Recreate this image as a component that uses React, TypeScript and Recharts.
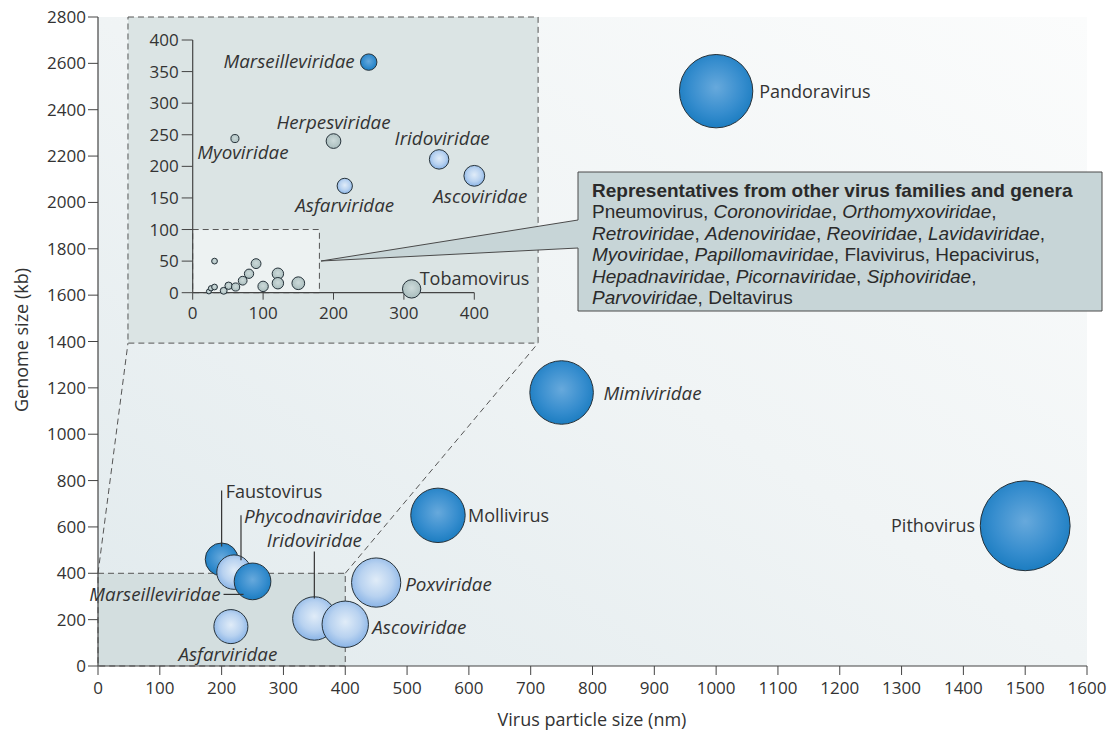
import React from 'react';
import { ScatterChart, Scatter, XAxis, YAxis, ZAxis, ReferenceArea, ReferenceLine } from 'recharts';

const FONT = '"Open Sans", "Noto Sans", "DejaVu Sans", sans-serif';
const BOX_FONT = '"Liberation Sans", Arial, sans-serif';
const TEXT = '#333333';
const AXIS = '#444444';

// ---------- main chart data ----------
const mainNames = ['Asfarviridae', 'Faustovirus', 'Phycodnaviridae', 'Marseilleviridae', 'Iridoviridae', 'Ascoviridae', 'Poxviridae', 'Mollivirus', 'Mimiviridae', 'Pandoravirus', 'Pithovirus'];
const mainParticleNm = [215, 200, 220, 250, 350, 400, 450, 550, 750, 1000, 1500];
const mainGenomeKb = [170, 460, 405, 365, 205, 180, 360, 650, 1180, 2480, 605];
const mainGroup = ['light', 'dark', 'light', 'dark', 'light', 'light', 'light', 'dark', 'dark', 'dark', 'dark'];

// ---------- inset data ----------
const insetNames = ['', '', '', '', '', '', '', '', '', '', '', '', '', '', 'Myoviridae', 'Herpesviridae', 'Asfarviridae', 'Marseilleviridae', 'Tobamovirus', 'Iridoviridae', 'Ascoviridae'];
const insetParticleNm = [23, 26, 31, 31, 44, 51, 61, 71, 80, 90, 100, 121, 121, 150, 60, 200, 216, 250, 311, 350, 400];
const insetGenomeKb = [2, 7, 9, 50, 3, 11, 9, 19, 30, 46, 10, 30, 15, 15, 244, 240, 169, 365, 6, 211, 185];
const insetGroup = ['gray', 'gray', 'gray', 'gray', 'gray', 'gray', 'gray', 'gray', 'gray', 'gray', 'gray', 'gray', 'gray', 'gray', 'gray', 'gray', 'light', 'dark', 'gray', 'light', 'light'];

// ---------- ticks ----------
const xTicksMain = [0, 100, 200, 300, 400, 500, 600, 700, 800, 900, 1000, 1100, 1200, 1300, 1400, 1500, 1600];
const yTicksMain = [0, 200, 400, 600, 800, 1000, 1200, 1400, 1600, 1800, 2000, 2200, 2400, 2600, 2800];
const xTicksInset = [0, 100, 200, 300, 400];
const yTicksInset = [0, 50, 100, 150, 200, 250, 300, 350, 400];

// ---------- callout text ----------
const calloutTitle = 'Representatives from other virus families and genera';
const calloutLines: [string, boolean][][] = [
  [['Pneumovirus', false], [', ', false], ['Coronoviridae', true], [', ', false], ['Orthomyxoviridae', true], [',', false]],
  [['Retroviridae', true], [', ', false], ['Adenoviridae', true], [', ', false], ['Reoviridae', true], [', ', false], ['Lavidaviridae', true], [',', false]],
  [['Myoviridae', true], [', ', false], ['Papillomaviridae', true], [', Flavivirus, Hepacivirus,', false]],
  [['Hepadnaviridae', true], [', ', false], ['Picornaviridae', true], [', ', false], ['Siphoviridae', true], [',', false]],
  [['Parvoviridae', true], [', Deltavirus', false]],
];

const mainData = mainNames.map((name, i) => ({ name, x: mainParticleNm[i], y: mainGenomeKb[i], z: mainParticleNm[i], group: mainGroup[i] }));
const insetData = insetNames.map((name, i) => ({ name, x: insetParticleNm[i], y: insetGenomeKb[i], z: insetParticleNm[i], group: insetGroup[i] }));

type Lab = { dx: number; dy: number; anchor: 'start' | 'middle' | 'end'; leader?: [number, number, number, number] };

const mainLabelPos: Record<string, Lab> = {
  Pandoravirus: { dx: 43, dy: 1, anchor: 'start' },
  Pithovirus: { dx: -50, dy: 0, anchor: 'end' },
  Mimiviridae: { dx: 42, dy: 1, anchor: 'start' },
  Mollivirus: { dx: 30, dy: 0, anchor: 'start' },
  Poxviridae: { dx: 29, dy: 2, anchor: 'start' },
  Ascoviridae: { dx: 27, dy: 3, anchor: 'start' },
  Iridoviridae: { dx: 0, dy: -78, anchor: 'middle', leader: [0, -67, 0, -20] },
  Asfarviridae: { dx: -3, dy: 28, anchor: 'middle' },
  Faustovirus: { dx: 4, dy: -68, anchor: 'start', leader: [0, -69, 0, -13] },
  Phycodnaviridae: { dx: 10, dy: -56, anchor: 'start', leader: [7, -57, 7, -12] },
  Marseilleviridae: { dx: -32, dy: 13, anchor: 'end', leader: [-29, 13, -9, 13] },
};

const insetLabelPos: Record<string, Lab> = {
  Marseilleviridae: { dx: -14, dy: -1, anchor: 'end' },
  Herpesviridae: { dx: 0, dy: -19, anchor: 'middle' },
  Myoviridae: { dx: 8, dy: 14, anchor: 'middle' },
  Iridoviridae: { dx: 3, dy: -21, anchor: 'middle' },
  Asfarviridae: { dx: 0, dy: 19, anchor: 'middle' },
  Ascoviridae: { dx: 6, dy: 21, anchor: 'middle' },
  Tobamovirus: { dx: 8, dy: -10, anchor: 'start' },
};

const fillFor = (g: string) => (g === 'dark' ? 'url(#gDark)' : g === 'light' ? 'url(#gLight)' : 'url(#gGray)');

const makeShape = (labels: Record<string, Lab>) => (props: any) => {
  const { cx, cy, payload } = props;
  if (cx == null || cy == null || !payload) return <g />;
  const r = props.width ? props.width / 2 : Math.sqrt(Math.max(props.size || 0, 0) / Math.PI);
  const lab = labels[payload.name];
  const italic = payload.name.endsWith('viridae');
  return (
    <g>
      <circle cx={cx} cy={cy} r={r} fill={fillFor(payload.group)} stroke="#26323a" strokeWidth={1} />
      {lab && lab.leader && (
        <line x1={cx + lab.leader[0]} y1={cy + lab.leader[1]} x2={cx + lab.leader[2]} y2={cy + lab.leader[3]} stroke="#333" strokeWidth={1.2} />
      )}
      {lab && (
        <text x={cx + lab.dx} y={cy + lab.dy} dy="0.35em" textAnchor={lab.anchor} fontStyle={italic ? 'italic' : 'normal'} fontSize={italic ? 18.8 : 18} fill={TEXT} fontFamily={FONT}>
          {payload.name}
        </text>
      )}
    </g>
  );
};

const mainShape = makeShape(mainLabelPos);
const insetShape = makeShape(insetLabelPos);

const tickStyle = { fill: TEXT, fontSize: 17, fontFamily: FONT };

export default function App() {
  return (
    <div style={{ position: 'absolute', left: 0, top: 0, width: 1120, height: 734, background: '#ffffff', fontFamily: FONT, overflow: 'hidden' }}>
      <svg width={0} height={0} style={{ position: 'absolute' }}>
        <defs>
          <linearGradient id="gBg" x1="0" y1="1" x2="1" y2="0">
            <stop offset="0" stopColor="#e1eaed" />
            <stop offset="0.5" stopColor="#f0f4f5" />
            <stop offset="1" stopColor="#fbfcfc" />
          </linearGradient>
          <radialGradient id="gDark" cx="0.5" cy="0.45" r="0.55">
            <stop offset="0" stopColor="#67a9dc" />
            <stop offset="0.65" stopColor="#368dce" />
            <stop offset="1" stopColor="#1c7dc1" />
          </radialGradient>
          <radialGradient id="gLight" cx="0.5" cy="0.45" r="0.55">
            <stop offset="0" stopColor="#e0ecf8" />
            <stop offset="0.6" stopColor="#b8d2f0" />
            <stop offset="1" stopColor="#8ab4e6" />
          </radialGradient>
          <radialGradient id="gGray" cx="0.5" cy="0.45" r="0.55">
            <stop offset="0" stopColor="#cddada" />
            <stop offset="1" stopColor="#a9bdbd" />
          </radialGradient>
        </defs>
      </svg>

      <div style={{ position: 'absolute', left: 0, top: 0 }}>
        <ScatterChart width={1120} height={734} margin={{ top: 17, right: 33, bottom: 38, left: 38 }}>
          <XAxis type="number" dataKey="x" domain={[0, 1600]} ticks={xTicksMain} interval={0} height={30}
            axisLine={{ stroke: AXIS, strokeWidth: 1.2 }} tickLine={{ stroke: AXIS }} tickSize={9} tickMargin={7} tick={tickStyle} />
          <YAxis type="number" dataKey="y" domain={[0, 2800]} ticks={yTicksMain} interval={0} width={60}
            axisLine={{ stroke: AXIS, strokeWidth: 1.2 }} tickLine={{ stroke: AXIS }} tickSize={10} tickMargin={2} tick={tickStyle} />
          <ZAxis type="number" dataKey="z" domain={[0, 1600]} range={[0, 6764]} />
          <ReferenceArea x1={0} x2={1600} y1={0} y2={2800} fill="url(#gBg)" fillOpacity={1} stroke="none" />
          <ReferenceArea x1={0} x2={400} y1={0} y2={400} fill="#d3dedf" fillOpacity={1} stroke="#555" strokeDasharray="6 4" />
          <ReferenceArea x1={48.5} x2={712} y1={1393} y2={2800} fill="#dbe4e4" fillOpacity={1} stroke="#555" strokeDasharray="6 4" />
          <ReferenceLine segment={[{ x: 0, y: 400 }, { x: 48.5, y: 1393 }]} stroke="#555" strokeDasharray="6 4" />
          <ReferenceLine segment={[{ x: 400, y: 400 }, { x: 712, y: 1393 }]} stroke="#555" strokeDasharray="6 4" />
          <Scatter data={mainData} shape={mainShape} isAnimationActive={false} />
        </ScatterChart>
      </div>

      <div style={{ position: 'absolute', left: 128, top: 17 }}>
        <ScatterChart width={410} height={326} margin={{ top: 23, right: 63.7, bottom: 25.3, left: 24.7 }}>
          <XAxis type="number" dataKey="x" domain={[0, 400]} ticks={xTicksInset} interval={0} height={25}
            axisLine={{ stroke: AXIS, strokeWidth: 1.2 }} tickLine={{ stroke: AXIS }} tickSize={7} tickMargin={7} tick={tickStyle} />
          <YAxis type="number" dataKey="y" domain={[0, 400]} ticks={yTicksInset} interval={0} width={40}
            axisLine={{ stroke: AXIS, strokeWidth: 1.2 }} tickLine={{ stroke: AXIS }} tickSize={11} tickMargin={3} tick={tickStyle} />
          <ZAxis type="number" dataKey="z" domain={[0, 400]} range={[0, 340]} />
          <ReferenceArea x1={0} x2={180} y1={0} y2={100} fill="#edf2f2" fillOpacity={1} stroke="#555" strokeDasharray="6 4" />
          <Scatter data={insetData} shape={insetShape} isAnimationActive={false} />
        </ScatterChart>
      </div>

      <svg width={1120} height={734} style={{ position: 'absolute', left: 0, top: 0, pointerEvents: 'none' }} fontFamily={FONT}>
        <path d="M 578 172 L 1102 172 L 1102 311 L 578 311 L 578 248 L 321 261 L 578 220 Z" fill="#c7d5d7" stroke="#4a4a4a" strokeWidth={1} />
        <text x={592} y={190} dy="0.35em" fontSize={19} fontWeight="bold" fill="#2a2a2a" fontFamily={BOX_FONT}>{calloutTitle}</text>
        {calloutLines.map((line, i) => (
          <text key={i} x={592} y={211.5 + i * 21.5} dy="0.35em" fontSize={19} fill="#2a2a2a" fontFamily={BOX_FONT}>
            {line.map(([t, it], j) => (
              <tspan key={j} fontStyle={it ? 'italic' : 'normal'}>{t}</tspan>
            ))}
          </text>
        ))}
        <text x={22} y={340} transform="rotate(-90 22 340)" textAnchor="middle" dy="0.35em" fontSize={18} fill={TEXT}>Genome size (kb)</text>
        <text x={592} y={720} textAnchor="middle" dy="0.35em" fontSize={18} fill={TEXT}>Virus particle size (nm)</text>
      </svg>
    </div>
  );
}
